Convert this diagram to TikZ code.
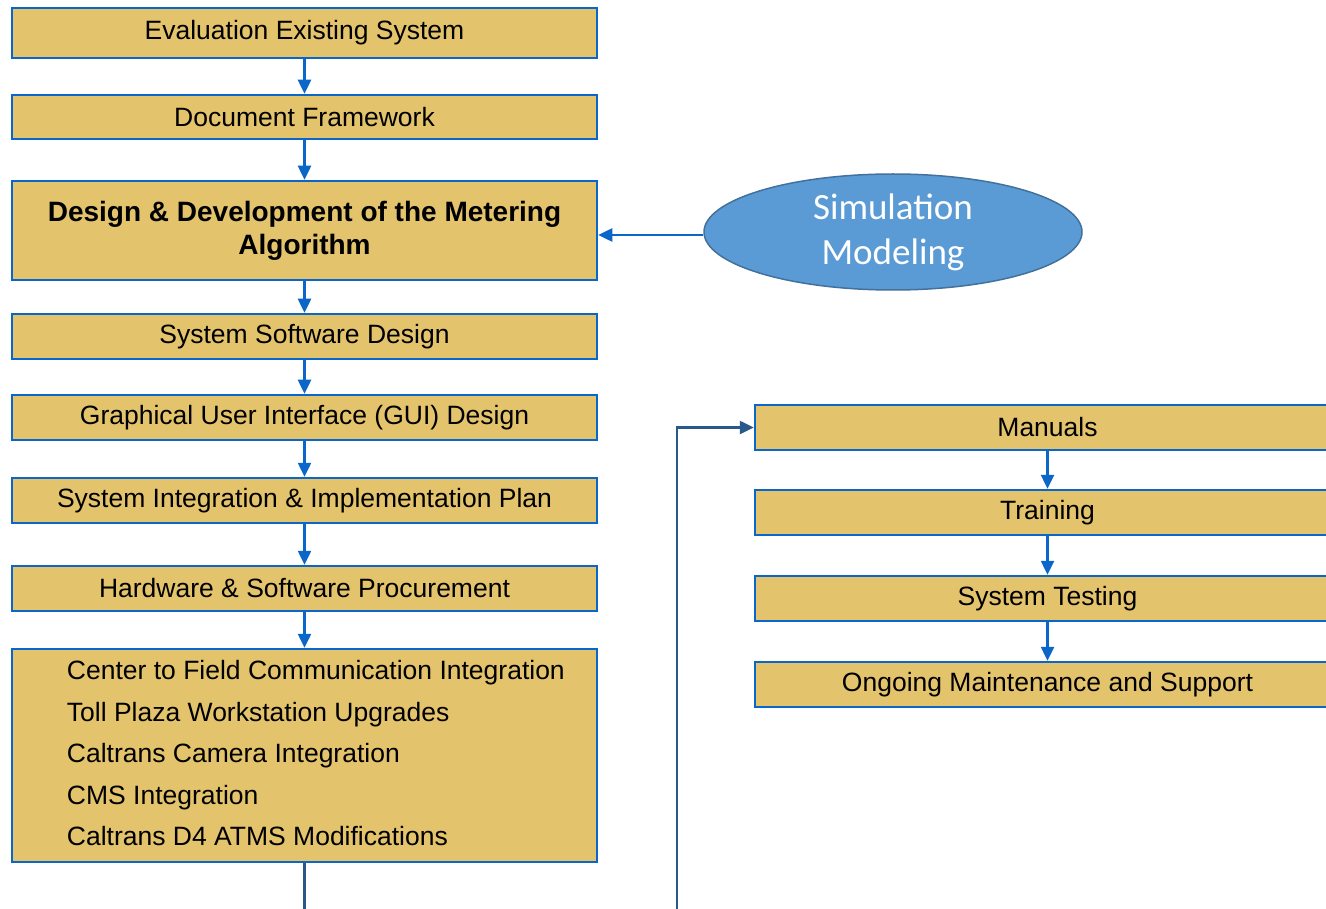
\documentclass[tikz,border=0pt]{standalone}
\usepackage{fontspec}
\setmainfont{Liberation Sans}
\newfontfamily\simfont{Carlito}
\usetikzlibrary{arrows.meta,shapes.geometric}

\definecolor{boxfill}{RGB}{227,195,107}
\definecolor{boxline}{RGB}{10,102,200}
\definecolor{simfill}{RGB}{91,155,213}
\definecolor{simline}{RGB}{65,113,156}
\definecolor{longline}{RGB}{43,88,138}

\tikzset{
  stage/.style={shape=rectangle,draw=boxline,fill=boxfill,line width=2.5pt,
    minimum width=585pt,inner sep=0pt,font=\fontsize{26.5}{30}\selectfont},
  flow/.style={draw=boxline,line width=2.5pt,-{Triangle[length=14pt,width=13pt]}},
  back/.style={draw=longline,line width=2.5pt}
}

\begin{document}
\begin{tikzpicture}[x=1pt,y=-1pt]

  \useasboundingbox (0,0) rectangle (1326,909);
  \clip (0,0) rectangle (1326,909);

  % draw left stages with nodes
  \node[stage,minimum height=50pt] (eval) at (304.5,33) {Evaluation Existing System};
  \node[stage,minimum height=44pt] (docu) at (304.5,117) {Document Framework};
  \node[stage,minimum height=99pt,align=center,font=\fontsize{28}{33}\selectfont\bfseries]
    (design) at (304.5,230.5) {Design \& Development of the Metering\\Algorithm};
  \node[stage,minimum height=45pt] (soft) at (304.5,336.5) {System Software Design};
  \node[stage,minimum height=45pt] (gui) at (304.5,417.5) {Graphical User Interface (GUI) Design};
  \node[stage,minimum height=45pt] (plan) at (304.5,500.5) {System Integration \& Implementation Plan};
  \node[stage,minimum height=45pt] (proc) at (304.5,588.5) {Hardware \& Software Procurement};
  \node[stage,minimum height=213pt] (integ) at (304.5,755.5) {};
  \node[anchor=west,align=left,inner sep=0pt,font=\fontsize{26.5}{41.5}\selectfont]
    (integlist) at ([xshift=56pt,yshift=2pt]integ.west)
    {Center to Field Communication Integration\\Toll Plaza Workstation Upgrades\\
     Caltrans Camera Integration\\CMS Integration\\Caltrans D4 ATMS Modifications};

  % draw right stages with nodes
  \node[stage,minimum height=45pt] (manu) at (1047.5,427.5) {Manuals};
  \node[stage,minimum height=45pt] (train) at (1047.5,512.5) {Training};
  \node[stage,minimum height=45pt] (test) at (1047.5,598.5) {System Testing};
  \node[stage,minimum height=45pt] (maint) at (1047.5,684.5) {Ongoing Maintenance and Support};

  % simulation ellipse
  \node[shape=ellipse,draw=simline,fill=simfill,line width=1.5pt,
    minimum width=378pt,minimum height=116pt,inner sep=0pt,align=center,
    text=white,font=\simfont\fontsize{37}{45}\selectfont] (sim) at (893,232)
    {Simulation\\Modeling};

  % draw connectors
  \foreach \a/\b in {eval/docu,docu/design,design/soft,soft/gui,gui/plan,plan/proc,proc/integ,
    manu/train,train/test,test/maint} {
    \draw[flow] (\a) -- (\b);
  };
  \draw[flow] ([yshift=-3pt]sim.west) -- ([yshift=-3pt]sim.west -| design.east);

  \coordinate (endA) at (304.5,912);
  \coordinate (endB) at (677,912);
  \draw[back] (integ) -- (endA);
  \draw[back,-{Triangle[length=14pt,width=13pt]}] (endB) |- (manu.west);

\end{tikzpicture}
\end{document}
